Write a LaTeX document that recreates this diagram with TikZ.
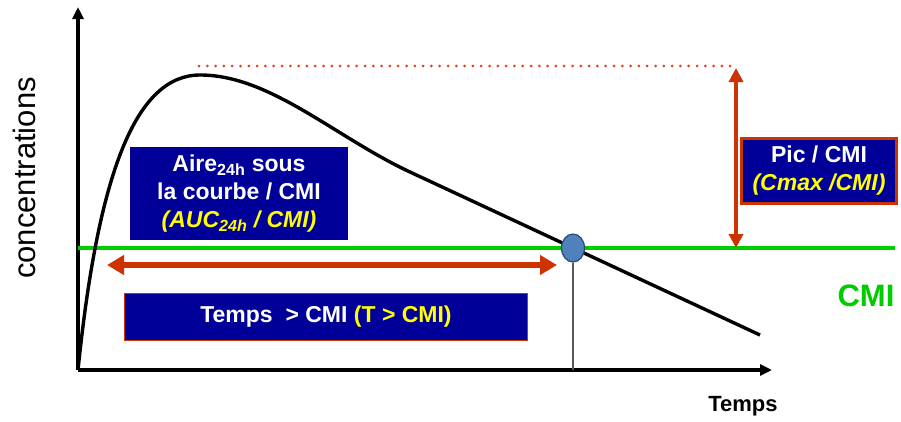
\documentclass[tikz,border=0pt]{standalone}
\usepackage{fontspec}
\setmainfont{Liberation Sans}
\usetikzlibrary{arrows.meta,positioning,shapes.geometric}
\definecolor{boxblue}{HTML}{000099}
\definecolor{spanred}{HTML}{CC3300}
\definecolor{dotred}{HTML}{E0401A}
\definecolor{cmigreen}{HTML}{00CC00}
\definecolor{crossblue}{HTML}{4F81BD}
\definecolor{crossedge}{HTML}{2C4A70}
\definecolor{capyellow}{HTML}{FFFF00}

\begin{document}
\begin{tikzpicture}
        [x=1pt, y=-1pt,
          axis/.style={line width=3.2pt, -{Triangle[length=12pt,width=11pt]}},
          infobox/.style={fill=boxblue, text=white, align=center, inner sep=0pt,
            font=\bfseries\fontsize{23}{28}\selectfont},
          span/.style={draw=spanred, line width=5.5pt,
            {Triangle[length=17pt,width=19pt]}-{Triangle[length=17pt,width=19pt]}},
          rise/.style={draw=spanred, line width=3.6pt,
            {Triangle[length=14pt,width=14pt]}-{Triangle[length=14pt,width=14pt]}}]
        \useasboundingbox (0,0) rectangle (901,421);
        % axes
        \coordinate (origin) at (78,370);
        \coordinate (ytip) at (78,7);
        \coordinate (xtip) at (772,370);
        \draw[axis] (origin) -- (ytip);
        \draw[axis] (origin) -- (xtip);
        \node[rotate=90, font=\fontsize{31}{31}\selectfont] (ylab) at (24,178) {concentrations};
        \node[font=\bfseries\fontsize{22}{22}\selectfont] (xlab) at (743,406) {Temps};
        % CMI level
        \coordinate (cmiL) at (78,248);
        \coordinate (cmiR) at (895,248);
        \draw[cmigreen, line width=3.4pt] (cmiL) -- (cmiR);
        \node[text=cmigreen, font=\bfseries\fontsize{31}{31}\selectfont] (cmilab) at (866,296) {CMI};
        % peak level
        \coordinate (peakL) at (199,66);
        \coordinate (peakR) at (735,66);
        \draw[dotred, line width=3pt, line cap=round, dash pattern=on 0pt off 8.3pt] (peakL) -- (peakR);
        % curve
        \draw[line width=3.4pt] (origin) .. controls (98,175) and (135,75) .. (200,75)
          .. controls (270,75) and (335,137) .. (410,172) -- (760,335);
        \node[draw=crossedge, fill=crossblue, ellipse, line width=1.2pt,
          minimum width=23pt, minimum height=28pt, inner sep=0pt] (cross) at (573,248) {};
        \draw[gray!70!black, line width=1.4pt] (cross.south) -- (cross |- origin);
        % spans
        \coordinate (tstart) at (107,265);
        \coordinate (tend) at (557,265);
        \draw[span] (tstart) -- (tend);
        \coordinate (pictop) at (736,68);
        \draw[rise] (pictop) -- (pictop |- cmiL);
        % boxes
        \node[infobox, minimum width=218pt, minimum height=93pt] (auc) at (239,193.5)
          {Aire\textsubscript{24h} sous\\la courbe / CMI\\
           \textit{\color{capyellow}(AUC\textsubscript{24h} / CMI)}};
        \node[infobox, draw=spanred, line width=3pt, minimum width=155pt, minimum height=65pt] (pic) at (819,171)
          {Pic / CMI\\\textit{\color{capyellow}(Cmax /CMI)}};
        \node[infobox, draw=spanred, line width=1pt, minimum width=403pt, minimum height=47pt] (tmic) at (326,317)
          {Temps\ \ > CMI {\color{capyellow}(T > CMI)}};
      \end{tikzpicture}
\end{document}
